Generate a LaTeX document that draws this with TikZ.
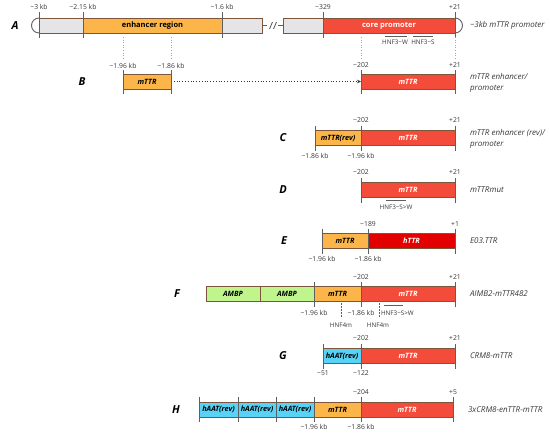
\documentclass[tikz,border=0pt]{standalone}
\usepackage{fontspec}
\setmainfont{Open Sans}
\usetikzlibrary{arrows.meta}
\definecolor{barorange}{RGB}{251,181,72}
\definecolor{barred}{RGB}{244,76,58}
\definecolor{bardred}{RGB}{226,0,0}
\definecolor{bargray}{RGB}{229,229,232}
\definecolor{bargreen}{RGB}{192,245,142}
\definecolor{barcyan}{RGB}{88,210,245}
\definecolor{barline}{RGB}{125,85,60}
\definecolor{tickgray}{RGB}{95,95,95}
\definecolor{txtgray}{RGB}{55,55,55}

\begin{document}
\begin{tikzpicture}[x=1pt,y=-1pt]
\tikzstyle{every node}+=[inner sep=0pt, outer sep=0pt]
\tikzstyle{seg}=[draw=barline, line width=0.7pt, minimum height=15pt, font=\fontsize{7.3}{8}\selectfont\bfseries\itshape]
\tikzstyle{wseg}=[seg, text=white]
\tikzstyle{tk}=[draw=tickgray, line width=0.9pt]
\tikzstyle{num}=[text=txtgray, font=\fontsize{6.8}{7}\selectfont]
\tikzstyle{rowlbl}=[font=\fontsize{11}{13}\selectfont\bfseries\itshape]
\tikzstyle{rname}=[anchor=west, text=txtgray, font=\fontsize{8}{11.5}\selectfont\itshape, align=left]
\tikzstyle{guide}=[draw=gray!70, dotted, line width=0.6pt]
\tikzstyle{site}=[draw=tickgray, line width=0.8pt]
\useasboundingbox (0,0) rectangle (550,434);

% A
\node[rowlbl] (la) at (15,25.5) {A};
\node[seg, fill=bargray, minimum width=223] (a1) at (150.5,25.5) {};
\node[seg, fill=barorange, minimum width=139, font=\fontsize{7.5}{8}\selectfont\bfseries] (a2) at (152.5,25.5) {enhancer region};
\node[seg, fill=bargray, minimum width=40] (a3) at (303,25.5) {};
\node[wseg, fill=barred, minimum width=132, font=\fontsize{7.5}{8}\selectfont\bfseries] (a4) at (389,25.5) {core promoter};
\draw[tk] (a1.east) -- ++(5,0);
\draw[tk] (a3.west) -- ++(-5,0);
\draw[tk] (269.5,29) -- (272.5,22);
\draw[tk] (273.5,29) -- (276.5,22);
\draw[tk, fill=white] (a1.north west) arc (90:270:7.5pt);
\draw[tk, fill=white] (a4.north east) arc (90:-90:7.5pt);
\foreach \n/\s in {a1/west, a2/west, a2/east, a4/west, a4/east}
  \draw[tk] ([yshift=6]\n.north \s) -- ([yshift=-5]\n.south \s);
\node[num] (ta1) at ([yshift=11]a1.north west) {−3 kb};
\node[num] (ta2) at ([yshift=11]a2.north west) {−2.15 kb};
\node[num] (ta3) at ([yshift=11]a2.north east) {−1.6 kb};
\node[num] (ta4) at ([yshift=11]a4.north west) {−329};
\node[num] (ta5) at ([yshift=11]a4.north east) {+21};
\coordinate (hw1) at (385,36);
\coordinate (hw2) at (407,36);
\coordinate (hs1) at (413,36);
\coordinate (hs2) at (433,36);
\draw[site] (hw1) -- (hw2);
\draw[site] (hs1) -- (hs2);
\node[num, font=\fontsize{6.3}{7}\selectfont] (hnw) at (395,42.5) {HNF3−W};
\node[num, font=\fontsize{6.3}{7}\selectfont] (hns) at (423,42.5) {HNF3−S};
\node[rname] (na) at (470,25.5) {−3kb mTTR promoter};

% B
\node[rowlbl] (lb) at (82,81.5) {B};
\node[seg, fill=barorange, minimum width=48] (b1) at (147,81.5) {mTTR};
\node[wseg, fill=barred, minimum width=94] (b2) at (408,81.5) {mTTR};
\draw[dotted, line width=0.8pt, draw=black!80, -{Stealth[length=4pt,width=3.5pt]}] (b1.east) -- (b2.west);
\foreach \n/\s in {b1/west, b1/east, b2/west, b2/east}
  \draw[tk] ([yshift=4]\n.north \s) -- ([yshift=-5]\n.south \s);
\coordinate (ga) at (0,37);
\foreach \n/\s in {b1/west, b1/east, b2/west, b2/east}
  \draw[guide] (\n.north \s |- ga) -- ([yshift=16]\n.north \s);
\node[num] (tb1) at ([yshift=8.5]b1.north west) {−1.96 kb};
\node[num] (tb2) at ([yshift=8.5]b1.north east) {−1.86 kb};
\node[num] (tb3) at ([yshift=8.5]b2.north west) {−202};
\node[num] (tb4) at ([yshift=8.5]b2.north east) {+21};
\node[rname] (nb) at (470,83) {mTTR enhancer/\\promoter};

% C
\node[rowlbl] (lc) at (283,138) {C};
\node[seg, fill=barorange, minimum width=46] (c1) at (338,138) {mTTR(rev)};
\node[wseg, fill=barred, minimum width=94] (c2) at (408,138) {mTTR};
\foreach \n/\s in {c1/west, c2/west, c2/east}
  \draw[tk] ([yshift=5]\n.north \s) -- ([yshift=-5]\n.south \s);
\node[num] (tc1) at ([yshift=10]c2.north west) {−202};
\node[num] (tc2) at ([yshift=10]c2.north east) {+21};
\node[num] (tc3) at ([yshift=-10]c1.south west) {−1.86 kb};
\node[num] (tc4) at ([yshift=-10]c2.south west) {−1.96 kb};
\node[rname] (nc) at (470,139) {mTTR enhancer (rev)/\\promoter};

% D
\node[rowlbl] (ld) at (283,190) {D};
\node[wseg, fill=barred, minimum width=94] (d1) at (408,190) {mTTR};
\foreach \n/\s in {d1/west, d1/east}
  \draw[tk] ([yshift=5]\n.north \s) -- ([yshift=-5]\n.south \s);
\node[num] (td1) at ([yshift=10]d1.north west) {−202};
\node[num] (td2) at ([yshift=10]d1.north east) {+21};
\coordinate (dm1) at (386,200);
\coordinate (dm2) at (406,200);
\draw[site] (dm1) -- (dm2);
\node[num, font=\fontsize{6.3}{7}\selectfont] (hsd) at (396,207) {HNF3−S>W};
\node[rname] (nd) at (470,190) {mTTRmut};

% E
\node[rowlbl] (le) at (284,241) {E};
\node[seg, fill=barorange, minimum width=46] (e1) at (345,241) {mTTR};
\node[wseg, fill=bardred, minimum width=87] (e2) at (411.5,241) {hTTR};
\foreach \n/\s in {e1/west, e2/west, e2/east}
  \draw[tk] ([yshift=5]\n.north \s) -- ([yshift=-5]\n.south \s);
\node[num] (te1) at ([yshift=9]e2.north west) {−189};
\node[num] (te2) at ([yshift=9]e2.north east) {+1};
\node[num] (te3) at ([yshift=-10]e1.south west) {−1.96 kb};
\node[num] (te4) at ([yshift=-10]e2.south west) {−1.86 kb};
\node[rname] (ne) at (470,241) {E03.TTR};

% F
\node[rowlbl] (lf) at (177,294) {F};
\node[seg, fill=bargreen, minimum width=54] (f1) at (233,294) {AMBP};
\node[seg, fill=bargreen, minimum width=54] (f2) at (287,294) {AMBP};
\node[seg, fill=barorange, minimum width=47] (f3) at (337.5,294) {mTTR};
\node[wseg, fill=barred, minimum width=94] (f4) at (408,294) {mTTR};
\foreach \n/\s in {f3/west, f4/west, f4/east}
  \draw[tk] ([yshift=5]\n.north \s) -- ([yshift=-5]\n.south \s);
\node[num] (tf1) at ([yshift=9]f4.north west) {−202};
\node[num] (tf2) at ([yshift=9]f4.north east) {+21};
\node[num] (tf3) at ([yshift=-11]f3.south west) {−1.96 kb};
\node[num] (tf4) at ([yshift=-11]f4.south west) {−1.86 kb};
\coordinate (m1a) at (341,303);
\coordinate (m1b) at (341,318);
\coordinate (m2a) at (379,303);
\coordinate (m2b) at (379,318);
\draw[draw=tickgray, dash pattern=on 1.5pt off 1.5pt, line width=0.6pt] (m1a) -- (m1b);
\draw[draw=tickgray, dash pattern=on 1.5pt off 1.5pt, line width=0.6pt] (m2a) -- (m2b);
\node[num, font=\fontsize{6.3}{7}\selectfont] (hm1) at (341,325) {HNF4m};
\node[num, font=\fontsize{6.3}{7}\selectfont] (hm2) at (378,325) {HNF4m};
\coordinate (fm1) at (384,305);
\coordinate (fm2) at (403,305);
\draw[site] (fm1) -- (fm2);
\node[num, font=\fontsize{6.3}{7}\selectfont, anchor=west] (hsf) at (381,313) {HNF3−S>W};
\node[rname] (nf) at (470,294) {AIMB2-mTTR482};

% G
\node[rowlbl] (lg) at (283,356) {G};
\node[seg, fill=barcyan, minimum width=38] (g1) at (342,356) {hAAT(rev)};
\node[wseg, fill=barred, minimum width=94] (g2) at (408,356) {mTTR};
\foreach \n/\s in {g1/west, g2/west, g2/east}
  \draw[tk] ([yshift=5]\n.north \s) -- ([yshift=-5]\n.south \s);
\node[num] (tg1) at ([yshift=10]g2.north west) {−202};
\node[num] (tg2) at ([yshift=10]g2.north east) {+21};
\node[num] (tg3) at ([yshift=-10]g1.south west) {−51};
\node[num] (tg4) at ([yshift=-10]g2.south west) {−122};
\node[rname] (ng) at (470,356) {CRM8-mTTR};

% H
\node[rowlbl] (lh) at (176,409.5) {H};
\node[seg, fill=barcyan, minimum width=39] (h1) at (218.5,409.5) {hAAT(rev)};
\node[seg, fill=barcyan, minimum width=38] (h2) at (257,409.5) {hAAT(rev)};
\node[seg, fill=barcyan, minimum width=38] (h3) at (295,409.5) {hAAT(rev)};
\node[seg, fill=barorange, minimum width=47] (h4) at (337.5,409.5) {mTTR};
\node[wseg, fill=barred, minimum width=92] (h5) at (407,409.5) {mTTR};
\foreach \n/\s in {h1/west, h2/west, h3/west, h4/west, h5/west, h5/east}
  \draw[tk] ([yshift=5]\n.north \s) -- ([yshift=-5]\n.south \s);
\node[num] (th1) at ([yshift=10]h5.north west) {−204};
\node[num] (th2) at ([yshift=10]h5.north east) {+5};
\node[num] (th3) at ([yshift=-10]h4.south west) {−1.96 kb};
\node[num] (th4) at ([yshift=-10]h5.south west) {−1.86 kb};
\node[rname] (nh) at (468,409.5) {3xCRM8-enTTR-mTTR};
\end{tikzpicture}
\end{document}
